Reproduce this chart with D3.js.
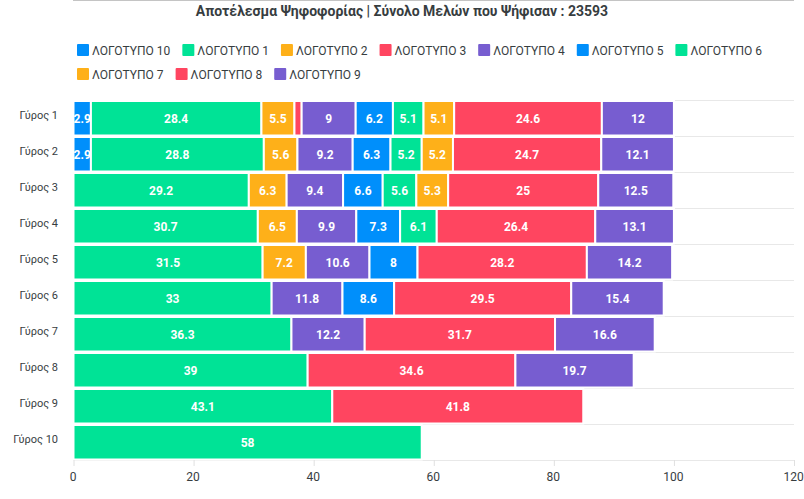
<!DOCTYPE html>
<html><head><meta charset="utf-8">
<script src="https://cdn.jsdelivr.net/npm/d3@7"></script>
<style>html,body{margin:0;padding:0;background:#fff}svg{display:block}text{font-family:Roboto,sans-serif}</style>
</head><body><svg id="c" width="804" height="499"></svg>
<script>
const titleText = "Αποτέλεσμα Ψηφοφορίας | Σύνολο Μελών που Ψήφισαν : 23593";
const rounds = ["Γύρος 1","Γύρος 2","Γύρος 3","Γύρος 4","Γύρος 5","Γύρος 6","Γύρος 7","Γύρος 8","Γύρος 9","Γύρος 10"];
const names = ["ΛΟΓΟΤΥΠΟ 10","ΛΟΓΟΤΥΠΟ 1","ΛΟΓΟΤΥΠΟ 2","ΛΟΓΟΤΥΠΟ 3","ΛΟΓΟΤΥΠΟ 4","ΛΟΓΟΤΥΠΟ 5","ΛΟΓΟΤΥΠΟ 6","ΛΟΓΟΤΥΠΟ 7","ΛΟΓΟΤΥΠΟ 8","ΛΟΓΟΤΥΠΟ 9"];
const colors = ["#008FFB","#00E396","#FEB019","#FF4560","#775DD0","#008FFB","#00E396","#FEB019","#FF4560","#775DD0"];
const logo10 = [2.9,2.9,0,0,0,0,0,0,0,0];
const logo1  = [28.4,28.8,29.2,30.7,31.5,33,36.3,39,43.1,58];
const logo2  = [5.5,5.6,6.3,6.5,7.2,0,0,0,0,0];
const logo3  = [1.2,0,0,0,0,0,0,0,0,0];
const logo4  = [9,9.2,9.4,9.9,10.6,11.8,12.2,0,0,0];
const logo5  = [6.2,6.3,6.6,7.3,8,8.6,0,0,0,0];
const logo6  = [5.1,5.2,5.6,6.1,0,0,0,0,0,0];
const logo7  = [5.1,5.2,5.3,0,0,0,0,0,0,0];
const logo8  = [24.6,24.7,25,26.4,28.2,29.5,31.7,34.6,41.8,0];
const logo9  = [12,12.1,12.5,13.1,14.2,15.4,16.6,19.7,0,0];
const xTicks = [0,20,40,60,80,100,120];
const seriesValues = [logo10,logo1,logo2,logo3,logo4,logo5,logo6,logo7,logo8,logo9];

const svg = d3.select("#c");
const x = d3.scaleLinear().domain([0,120]).range([73.5,794]);
const y = d3.scaleBand().domain(rounds).range([100,460]);

// top rule
svg.append("line").attr("x1",73).attr("x2",794).attr("y1",0.5).attr("y2",0.5).attr("stroke","#c4c4c4");

// horizontal grid
svg.append("g").selectAll("line").data(rounds.concat(["end"])).join("line")
  .attr("x1",x(0)).attr("x2",x(120))
  .attr("y1",d=>d==="end"?460.5:y(d)+0.5).attr("y2",d=>d==="end"?460.5:y(d)+0.5)
  .attr("stroke","#e8e8e8");

// title
svg.append("text").attr("x",402).attr("y",16).attr("text-anchor","middle")
  .attr("font-size",14).attr("font-weight",700).attr("fill","#373d3f").text(titleText);

// legend (wraps like a flow layout)
const legend = svg.append("g");
let lx = 77, ly = 44;
names.forEach((n,i)=>{
  const g = legend.append("g");
  const t = g.append("text").attr("font-size",12).attr("fill","#373d3f").text(n);
  const w = t.node().getComputedTextLength();
  if (lx + 15 + w > 790) { lx = 77; ly += 24; }
  g.append("rect").attr("x",lx).attr("y",ly).attr("width",12).attr("height",12).attr("rx",1).attr("fill",colors[i]);
  t.attr("x",lx+15).attr("y",ly+10.5);
  lx += 15 + w + 12;
});

// stacked bars
const rows = rounds.map((r,i)=>{
  const o = {round:r};
  names.forEach((n,k)=>o[n]=seriesValues[k][i]);
  return o;
});
const stacked = d3.stack().keys(names)(rows);
const barG = svg.append("g");
stacked.forEach((s,k)=>{
  const g = barG.append("g");
  const drawn = s.filter(d=>d[1]-d[0]>0);
  g.selectAll("rect").data(drawn).join("rect")
    .attr("x",d=>x(d[0])).attr("y",d=>y(d.data.round)+1)
    .attr("width",d=>x(d[1])-x(d[0])).attr("height",y.bandwidth()-1.5)
    .attr("fill",colors[k]).attr("stroke","#fff").attr("stroke-width",2);
  g.selectAll("text").data(drawn.filter(d=>d[1]-d[0]>=2)).join("text")
    .attr("x",d=>(x(d[0])+x(d[1]))/2).attr("y",d=>y(d.data.round)+y.bandwidth()/2+4.5)
    .attr("text-anchor","middle").attr("font-size",12).attr("font-weight",700).attr("fill","#fff")
    .text(d=>d3.format("~g")(+(d[1]-d[0]).toFixed(1)));
});

// y labels
svg.append("g").selectAll("text").data(rounds).join("text")
  .attr("x",58).attr("y",d=>y(d)+y.bandwidth()/2+1).attr("text-anchor","end")
  .attr("font-size",11).attr("fill","#373d3f").text(d=>d);

// x axis
const ax = svg.append("g").attr("transform","translate(0,460)")
  .call(d3.axisBottom(x).tickValues(xTicks).tickSize(6).tickPadding(6));
ax.select(".domain").remove();
ax.selectAll("line").attr("stroke","#e0e0e0");
ax.selectAll("text").attr("font-size",12).attr("fill","#373d3f").attr("font-family","Roboto,sans-serif").attr("dx",-1);
</script></body></html>
